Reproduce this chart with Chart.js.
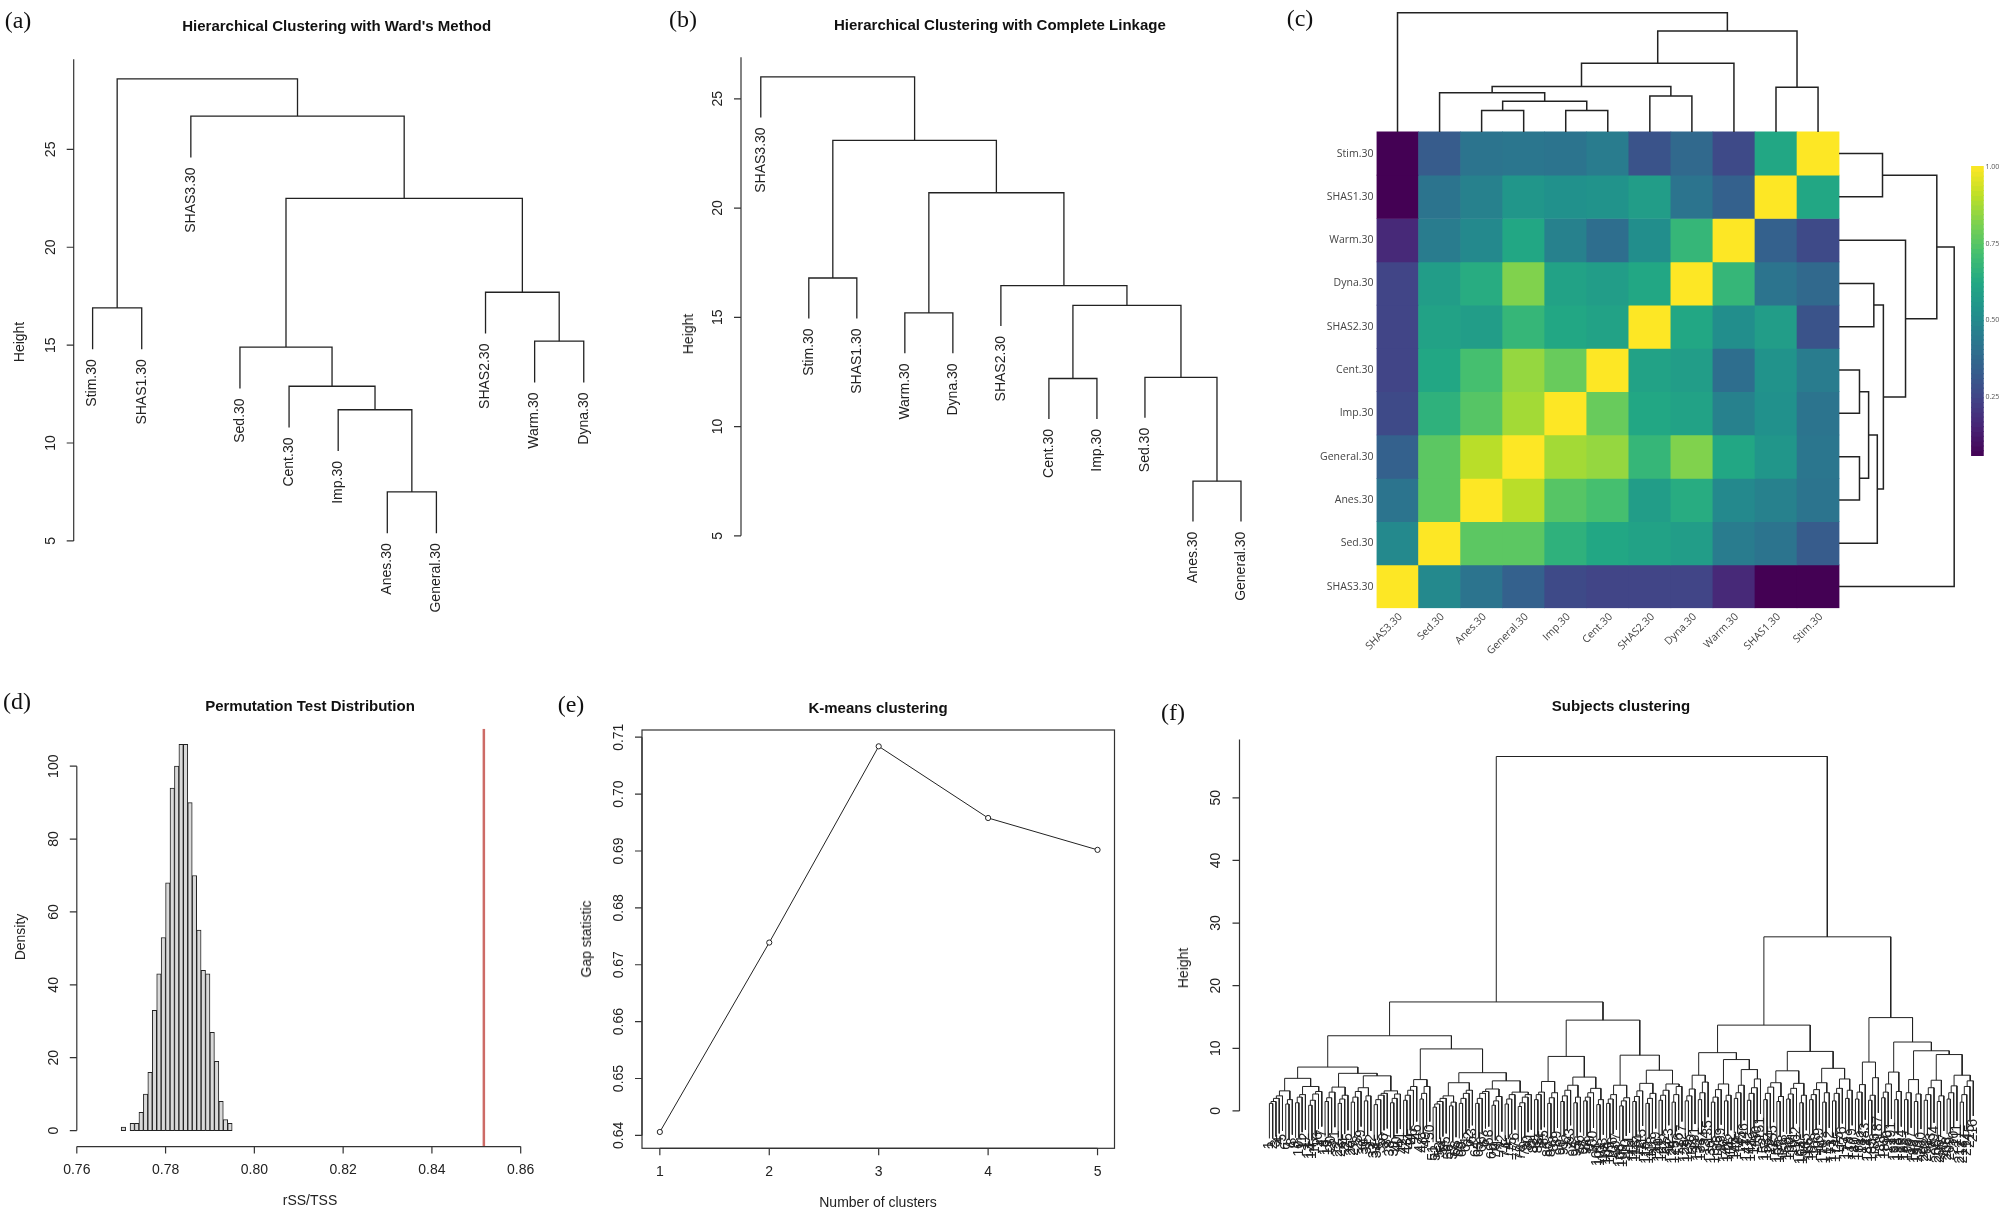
<!DOCTYPE html>
<html><head><meta charset="utf-8">
<script src="https://cdn.jsdelivr.net/npm/chart.js@4.4.1/dist/chart.umd.min.js"></script>
<style>
body{margin:0;background:#fff;width:2001px;height:1214px;position:relative;overflow:hidden;font-family:"Liberation Sans",Arial,sans-serif;color:#222}
canvas{position:absolute}
.t{position:absolute;white-space:nowrap;transform:translate(-50%,-50%);font-size:14px}
.b{font-weight:bold;font-size:15px;color:#111}
.p{font-family:"Liberation Serif","Times New Roman",serif;font-size:24px;color:#111}
.r{transform:translate(-50%,-50%) rotate(-90deg)}
</style></head><body>
<script>
// ---- data ----
const wardLeaves = ["Stim.30","SHAS1.30","SHAS3.30","Sed.30","Cent.30","Imp.30","Anes.30","General.30","SHAS2.30","Warm.30","Dyna.30"];
const wardMerges = [["Anes.30","General.30",7.5],["Imp.30",0,11.7],["Cent.30",1,12.9],["Sed.30",2,14.9],["Warm.30","Dyna.30",15.2],
  ["SHAS2.30",4,17.7],["Stim.30","SHAS1.30",16.9],[3,5,22.5],["SHAS3.30",7,26.7],[6,8,28.6]];

const completeLeaves = ["SHAS3.30","Stim.30","SHAS1.30","Warm.30","Dyna.30","SHAS2.30","Cent.30","Imp.30","Sed.30","Anes.30","General.30"];
const completeMerges = [["Anes.30","General.30",7.5],["Cent.30","Imp.30",12.2],["Sed.30",0,12.25],[1,2,15.55],["SHAS2.30",3,16.45],
  ["Warm.30","Dyna.30",15.2],["Stim.30","SHAS1.30",16.8],[5,4,20.7],[6,7,23.1],["SHAS3.30",8,26.0]];

// heatmap: column order (= row order bottom-up)
const varNames = ["SHAS3.30","Sed.30","Anes.30","General.30","Imp.30","Cent.30","SHAS2.30","Dyna.30","Warm.30","SHAS1.30","Stim.30"];
const corrMatrix = [
  [1.00,0.50,0.42,0.35,0.27,0.25,0.25,0.25,0.17,0.06,0.06],
  [0.50,1.00,0.76,0.76,0.66,0.62,0.60,0.58,0.45,0.42,0.33],
  [0.42,0.76,1.00,0.90,0.75,0.72,0.58,0.64,0.50,0.47,0.42],
  [0.35,0.76,0.90,1.00,0.87,0.85,0.68,0.82,0.62,0.55,0.43],
  [0.27,0.66,0.75,0.87,1.00,0.78,0.62,0.60,0.47,0.53,0.42],
  [0.25,0.62,0.72,0.85,0.78,1.00,0.60,0.58,0.40,0.54,0.45],
  [0.25,0.60,0.58,0.68,0.62,0.60,1.00,0.62,0.52,0.58,0.30],
  [0.25,0.58,0.64,0.82,0.60,0.58,0.62,1.00,0.68,0.42,0.38],
  [0.17,0.45,0.50,0.62,0.47,0.40,0.52,0.68,1.00,0.35,0.27],
  [0.06,0.42,0.47,0.55,0.53,0.54,0.58,0.42,0.35,1.00,0.62],
  [0.06,0.33,0.42,0.43,0.42,0.45,0.30,0.38,0.27,0.62,1.00]];
const colDendro = [["Anes.30","General.30",0.51],["Imp.30","Cent.30",0.51],[0,1,0.73],["Sed.30",2,0.93],["SHAS2.30","Dyna.30",0.85],
  [3,4,1.08],["Warm.30",5,1.63],["SHAS1.30","Stim.30",1.06],[6,7,2.40],["SHAS3.30",8,2.83]];
const rowDendro = [["Stim.30","SHAS1.30",1.00],["Dyna.30","SHAS2.30",0.80],["Cent.30","Imp.30",0.47],["General.30","Anes.30",0.47],
  [2,3,0.68],[4,"Sed.30",0.88],[1,5,1.02],["Warm.30",6,1.53],[0,7,2.25],[8,"SHAS3.30",2.65]];
const cbTicks = [0.25,0.50,0.75,1.00];

const permStart = 0.770, permWidth = 0.001;
const permDensity = [1,0,2,2,5,10,16,33,43,53,68,94,100,106,106,90,70,55,44,43,27,19,8,3,2];
const observedRatio = 0.8517;
const permXTicks = [0.76,0.78,0.80,0.82,0.84,0.86];
const permYTicks = [0,20,40,60,80,100];

const nClusters = [1,2,3,4,5];
const gapStat = [0.6406,0.6739,0.7084,0.6958,0.6902];
const gapYTicks = [0.64,0.65,0.66,0.67,0.68,0.69,0.70,0.71];

// subjects tree: [height, left, right]; strings = small chains of join heights
const subjTree = [56.6,
 [17.4,
  [12.0,
   [7.0,
    [5.2,[3.2,"1.2 1.5 2.0 2.4","1.1 1.8"],[3.9,"1.3 2.2 2.6","0.9 1.7 2.7 3.1"]],
    [6.0,[3.8,"1.5 2.1 3.0","1.2 1.9 2.5"],[5.6,[3.7,"1.4 2.2 3.1","1.6 2.4"],[3.2,"1.0 1.8 2.5 2.8","1.3 2.0 2.7"]]]],
   [9.9,
    [5.0,"1.7 2.5 3.3 3.9","1.9 2.8 3.9"],
    [6.1,[4.5,[2.4,"0.6 1.1 1.5 2.0","0.8 1.4"],"1.2 2.0 2.8 3.3"],[4.8,[3.5,"1.2 2.0 2.8 3.1","0.9 1.6 2.3"],[3.0,"1.1 1.9 2.6","0.7 1.3 2.2 2.6"]]]]],
  [14.5,
   [8.7,[4.7,"1.8 2.6 3.0","1.2 2.1 2.9"],[5.4,[4.1,"1.5 2.4 3.3","1.3 2.2"],[3.6,"1.6 2.2 2.9","1.0 1.8"]]],
   [8.9,[4.1,"1.2 1.9 2.6","0.8 1.6 2.1"],[6.5,[4.4,"1.5 2.3 3.2","1.2 2.0 2.8"],[4.3,"1.7 2.5 3.3","1.4 2.6 3.9"]]]]],
 [27.8,
  [13.7,
   [9.3,[5.7,"1.6 2.4 3.5","1.8 2.9 4.6"],[8.2,[4.3,"1.4 2.2 3.4","1.6 2.5"],[6.6,"2.0 2.9 4.1","1.7 2.8 3.7 5.1"]]],
   [9.5,[6.4,[4.5,"1.8 2.8 3.8","1.5 2.3"],[4.4,"1.9 2.7 3.6","1.3 2.5"]],[6.8,[4.5,"1.8 2.6 3.4","1.4 2.9"],[5.1,"1.6 2.8 3.6","2.0 3.3"]]]],
  [14.9,
   [7.8,"1.9 3.0 4.2","1.7 2.5 5.3"],
   [11.0,[6.2,"2.1 3.0 4.3","1.8 3.1"],[9.6,[5.0,"1.8 2.9","1.5 2.7"],[9.0,[4.9,"1.7 2.6 3.7","1.5 2.4"],[5.7,"1.9 2.9 4.0","1.4 2.6 3.9 4.8"]]]]]]];
const subjYTicks = [0,10,20,30,40,50];

// ---- helpers ----
Chart.defaults.font.family = '"Liberation Sans", Arial, sans-serif';
Chart.defaults.color = '#222';
Chart.defaults.animation = false;

function mkCanvas(x, y, w, h) {
  const c = document.createElement('canvas');
  c.width = w; c.height = h;
  c.style.left = x + 'px'; c.style.top = y + 'px';
  c.style.width = w + 'px'; c.style.height = h + 'px';
  document.body.appendChild(c);
  return c;
}
function txt(s, x, y, cls) {
  const d = document.createElement('div');
  d.className = 't ' + (cls || '');
  d.textContent = s;
  d.style.left = x + 'px'; d.style.top = y + 'px';
  document.body.appendChild(d);
}

// builds polylines (pos, height) for each merge; leafEnd gives where a leaf line stops
function buildDendro(leafPos, merges, leafEnd) {
  const nodes = [], paths = [], labels = [];
  merges.forEach(([a, b, h]) => {
    const ends = [a, b].map(c => {
      if (typeof c === 'string') {
        const p = leafPos(c), e = leafEnd(h);
        labels.push({p, h: e, text: c});
        return {p, h: e};
      }
      return nodes[c];
    });
    paths.push([[ends[0].p, ends[0].h], [ends[0].p, h], [ends[1].p, h], [ends[1].p, ends[1].h]]);
    nodes.push({p: (ends[0].p + ends[1].p) / 2, h});
  });
  return {paths, labels};
}
// one dataset per merge
function toDatasets(paths, fn, lw) {
  return paths.map(path => ({data: path.map(([p, h]) => fn(p, h)), showLine: true, pointRadius: 0,
    borderColor: '#222', borderWidth: lw, clip: false}));
}
function hangOf(merges) {
  const hs = merges.map(m => m[2]);
  return 0.1 * (Math.max(...hs) - Math.min(...hs));
}
const hidden = (min, max) => ({type: 'linear', display: false, min, max, offset: false});

// R style axes drawn from the chart scales
const rAxis = {
  id: 'raxis',
  afterDraw(chart, args, o) {
    const ctx = chart.ctx, a = chart.chartArea;
    ctx.save();
    ctx.strokeStyle = '#333'; ctx.lineWidth = 1.2; ctx.fillStyle = '#222';
    ctx.font = '14px "Liberation Sans", Arial, sans-serif';
    ctx.textAlign = 'center'; ctx.textBaseline = 'middle';
    if (o.box) ctx.strokeRect(a.left, a.top, a.right - a.left, a.bottom - a.top);
    if (o.y) {
      const ys = chart.scales.y, t = o.y.ticks;
      const x0 = a.left;
      ctx.beginPath();
      ctx.moveTo(x0, ys.getPixelForValue(t[0]));
      ctx.lineTo(x0, ys.getPixelForValue(o.y.top !== undefined ? o.y.top : t[t.length - 1]));
      t.forEach(v => { const py = ys.getPixelForValue(v); ctx.moveTo(x0, py); ctx.lineTo(x0 - 7, py); });
      ctx.stroke();
      t.forEach(v => {
        const py = ys.getPixelForValue(v);
        ctx.save(); ctx.translate(x0 - 23, py); ctx.rotate(-Math.PI / 2);
        ctx.fillText(o.y.fmt ? o.y.fmt(v) : String(v), 0, 0); ctx.restore();
      });
    }
    if (o.x) {
      const xs = chart.scales.x, t = o.x.ticks;
      const y0 = a.bottom;
      ctx.beginPath();
      ctx.moveTo(xs.getPixelForValue(t[0]), y0);
      ctx.lineTo(xs.getPixelForValue(t[t.length - 1]), y0);
      t.forEach(v => { const px = xs.getPixelForValue(v); ctx.moveTo(px, y0); ctx.lineTo(px, y0 + 7); });
      ctx.stroke();
      t.forEach(v => ctx.fillText(o.x.fmt ? o.x.fmt(v) : String(v), xs.getPixelForValue(v), y0 + 24));
    }
    ctx.restore();
  }
};
// rotated leaf labels under a vertical dendrogram
const leafLabels = {
  id: 'leaflabels',
  afterDraw(chart, args, o) {
    if (!o.items) return;
    const ctx = chart.ctx, xs = chart.scales.x, ys = chart.scales.y;
    ctx.save();
    ctx.fillStyle = '#222'; ctx.font = o.font;
    ctx.textAlign = 'right'; ctx.textBaseline = 'middle';
    o.items.forEach(it => {
      ctx.save();
      ctx.translate(xs.getPixelForValue(it.p), ys.getPixelForValue(it.h) + o.gap);
      ctx.rotate(-Math.PI / 2);
      ctx.fillText(it.text, 0, 0);
      ctx.restore();
    });
    ctx.restore();
  }
};

function dendroChart(canvas, leaves, merges, pad, xr, yr, yTicks, yTop, font, gap, lw) {
  const pos = new Map(leaves.map((l, i) => [l, i + 1]));
  const hang = hangOf(merges);
  const d = buildDendro(c => pos.get(c), merges, h => h - hang);
  return new Chart(canvas, {
    type: 'scatter',
    data: {datasets: toDatasets(d.paths, (p, h) => ({x: p, y: h}), lw)},
    options: {
      responsive: false, devicePixelRatio: 1, layout: {padding: pad},
      scales: {x: hidden(xr[0], xr[1]), y: hidden(yr[0], yr[1])},
      plugins: {legend: {display: false}, tooltip: {enabled: false},
        raxis: {y: {ticks: yTicks, top: yTop}},
        leaflabels: {items: d.labels, font, gap}}
    },
    plugins: [rAxis, leafLabels]
  });
}

// ---- (a) Ward ----
dendroChart(mkCanvas(0, 0, 640, 620), wardLeaves, wardMerges,
  {left: 73.7, top: 59.3, right: 36.6, bottom: 79.1}, [0.615, 11.4], [5, 29.6], [5, 10, 15, 20, 25], 29.6,
  '14px "Liberation Sans", Arial, sans-serif', 10, 1.3);
// ---- (b) complete ----
dendroChart(mkCanvas(640, 0, 680, 620), completeLeaves, completeMerges,
  {left: 101, top: 57.3, right: 59.8, bottom: 84.2}, [0.588, 11.4], [5, 26.9], [5, 10, 15, 20, 25], 26.9,
  '14px "Liberation Sans", Arial, sans-serif', 10, 1.3);

// ---- (c) heatmap ----
function viridis(t) {
  const st = ['#440154','#482475','#414487','#355f8d','#2a788e','#21918c','#22a884','#44bf70','#7ad151','#bddf26','#fde725'];
  t = Math.max(0, Math.min(1, t)) * 10;
  const i = Math.min(9, Math.floor(t)), f = t - i;
  const c0 = st[i], c1 = st[i + 1];
  const ch = k => Math.round(parseInt(c0.substr(k, 2), 16) * (1 - f) + parseInt(c1.substr(k, 2), 16) * f);
  return `rgb(${ch(1)},${ch(3)},${ch(5)})`;
}
const cMin = 0.06;
const colTo = v => viridis((v - cMin) / (1 - cMin));
const cells = [], cellColors = [];
corrMatrix.forEach((row, i) => row.forEach((v, j) => { cells.push({x: j + 0.5, y: [i, i + 1]}); cellColors.push(colTo(v)); }));
const cbX = 14.29, cbBottom = 3.52, cbTop = 10.197;
const cbY = v => cbBottom + (v - cMin) / (1 - cMin) * (cbTop - cbBottom);
const cbSeg = [], cbCol = [];
for (let k = 0; k < 60; k++) {
  const v0 = cMin + (1 - cMin) * k / 60, v1 = cMin + (1 - cMin) * (k + 1) / 60;
  cbSeg.push({x: cbX, y: [cbY(v0), cbY(v1) + 0.01]}); cbCol.push(colTo((v0 + v1) / 2));
}
const hmPos = c => varNames.indexOf(c) + 0.5;
const topD = buildDendro(hmPos, colDendro, () => 0);
const rightD = buildDendro(hmPos, rowDendro, () => 0);
const hmPad = {left: 56.5, top: 12.6, right: 15, bottom: 51.8};
const hmX = [0, 14.494], hmY = [0, 13.755];

new Chart(mkCanvas(1320, 0, 681, 660), {
  type: 'bar',
  data: {datasets: [
    {data: cells, backgroundColor: cellColors, borderWidth: 0, grouped: false, barPercentage: 1, categoryPercentage: 1},
    {data: cbSeg, backgroundColor: cbCol, borderWidth: 0, grouped: false, barThickness: 12}
  ]},
  options: {
    responsive: false, devicePixelRatio: 1, layout: {padding: hmPad},
    scales: {x: hidden(hmX[0], hmX[1]), y: hidden(hmY[0], hmY[1])},
    plugins: {legend: {display: false}, tooltip: {enabled: false}}
  }
});

const hmLabels = {
  id: 'hmlabels',
  afterDraw(chart) {
    const ctx = chart.ctx, xs = chart.scales.x, ys = chart.scales.y, a = chart.chartArea;
    ctx.save();
    ctx.fillStyle = '#444'; ctx.font = '10.5px "Open Sans", sans-serif'; ctx.textBaseline = 'middle';
    ctx.textAlign = 'right';
    varNames.forEach((n, i) => ctx.fillText(n, a.left - 3, ys.getPixelForValue(i + 0.5)));
    varNames.forEach((n, i) => {
      ctx.save();
      ctx.translate(xs.getPixelForValue(i + 0.5) + 3, ys.getPixelForValue(0) + 7);
      ctx.rotate(-Math.PI / 4);
      ctx.fillText(n, 0, 0);
      ctx.restore();
    });
    ctx.fillStyle = '#555'; ctx.font = '7px "Open Sans", sans-serif'; ctx.textAlign = 'left';
    cbTicks.forEach(v => ctx.fillText(v.toFixed(2), xs.getPixelForValue(cbX) + 8, ys.getPixelForValue(cbY(v))));
    ctx.restore();
  }
};
new Chart(mkCanvas(1320, 0, 681, 660), {
  type: 'scatter',
  data: {datasets: [
    ...toDatasets(topD.paths, (p, h) => ({x: p, y: 11 + h * 0.972}), 1.5),
    ...toDatasets(rightD.paths, (p, h) => ({x: 11 + h * 1.033, y: p}), 1.5)
  ]},
  options: {
    responsive: false, devicePixelRatio: 1, layout: {padding: hmPad},
    scales: {x: hidden(hmX[0], hmX[1]), y: hidden(hmY[0], hmY[1])},
    plugins: {legend: {display: false}, tooltip: {enabled: false}}
  },
  plugins: [hmLabels]
});

// ---- (d) permutation histogram ----
new Chart(mkCanvas(0, 680, 540, 534), {
  type: 'bar',
  data: {datasets: [
    {type: 'bar', data: permDensity.map((d, i) => ({x: permStart + permWidth * (i + 0.5), y: d})),
      backgroundColor: '#d9d9d9', borderColor: '#222', borderWidth: 1, borderSkipped: false,
      barPercentage: 1, categoryPercentage: 1, grouped: false},
    {type: 'line', data: [{x: observedRatio, y: -4.39}, {x: observedRatio, y: 110.29}], borderColor: '#cd6b66', borderWidth: 2.5, pointRadius: 0}
  ]},
  options: {
    responsive: false, devicePixelRatio: 1,
    layout: {padding: {left: 76.8, top: 48.7, right: 19.3, bottom: 67.4}},
    scales: {x: hidden(0.76, 0.86), y: hidden(-4.39, 110.29)},
    plugins: {legend: {display: false}, tooltip: {enabled: false},
      raxis: {y: {ticks: permYTicks}, x: {ticks: permXTicks, fmt: v => v.toFixed(2)}}}
  },
  plugins: [rAxis]
});

// ---- (e) gap statistic ----
new Chart(mkCanvas(540, 680, 620, 534), {
  type: 'scatter',
  data: {datasets: [{data: nClusters.map((k, i) => ({x: k, y: gapStat[i]})), showLine: true,
    borderColor: '#222', borderWidth: 1, pointRadius: 2.6, pointBackgroundColor: '#fff', pointBorderColor: '#222', pointBorderWidth: 1}]},
  options: {
    responsive: false, devicePixelRatio: 1,
    layout: {padding: {left: 102, top: 50, right: 45.5, bottom: 65.7}},
    scales: {x: hidden(0.837, 5.155), y: hidden(0.63773, 0.71127)},
    plugins: {legend: {display: false}, tooltip: {enabled: false},
      raxis: {box: true, y: {ticks: gapYTicks, fmt: v => v.toFixed(2)}, x: {ticks: nClusters}}}
  },
  plugins: [rAxis]
});

// ---- (f) subjects dendrogram ----
const subjLeaves = [], subjMerges = [];
function walkTree(n) {
  if (typeof n === 'string') {
    const newLeaf = () => { const id = String(subjLeaves.length + 1); subjLeaves.push(id); return id; };
    let id = newLeaf();
    n.trim().split(/\s+/).map(Number).forEach(h => { subjMerges.push([id, newLeaf(), h]); id = subjMerges.length - 1; });
    return id;
  }
  const a = walkTree(n[1]), b = walkTree(n[2]);
  subjMerges.push([a, b, n[0]]);
  return subjMerges.length - 1;
}
walkTree(subjTree);
{
  const N = subjLeaves.length, s = (1973.3 - 1269.4) / (N - 1);
  dendroChart(mkCanvas(1150, 680, 851, 534), subjLeaves, subjMerges,
    {left: 89.5, top: 59.6, right: 16, bottom: 103.1},
    [1 - (1269.4 - 1239.5) / s, N + (1985 - 1973.3) / s], [0, 59.3], subjYTicks, 59.3,
    '14px "Liberation Sans", Arial, sans-serif', 3, 1);
}

// ---- text ----
txt('(a)', 18, 20, 'p'); txt('(b)', 683, 19, 'p'); txt('(c)', 1300, 18, 'p');
txt('(d)', 17, 701, 'p'); txt('(e)', 571, 704, 'p'); txt('(f)', 1173, 712, 'p');
txt("Hierarchical Clustering with Ward's Method", 336.7, 25, 'b');
txt('Hierarchical Clustering with Complete Linkage', 999.9, 24, 'b');
txt('Permutation Test Distribution', 310, 704.5, 'b');
txt('K-means clustering', 878, 706.6, 'b');
txt('Subjects clustering', 1621, 705, 'b');
txt('Height', 19, 342, 'r'); txt('Height', 688.4, 334, 'r');
txt('Density', 19.6, 937, 'r'); txt('Gap statistic', 585.5, 938.8, 'r'); txt('Height', 1182.6, 967.8, 'r');
txt('rSS/TSS', 310, 1200); txt('Number of clusters', 878, 1202);
</script>
</body></html>
